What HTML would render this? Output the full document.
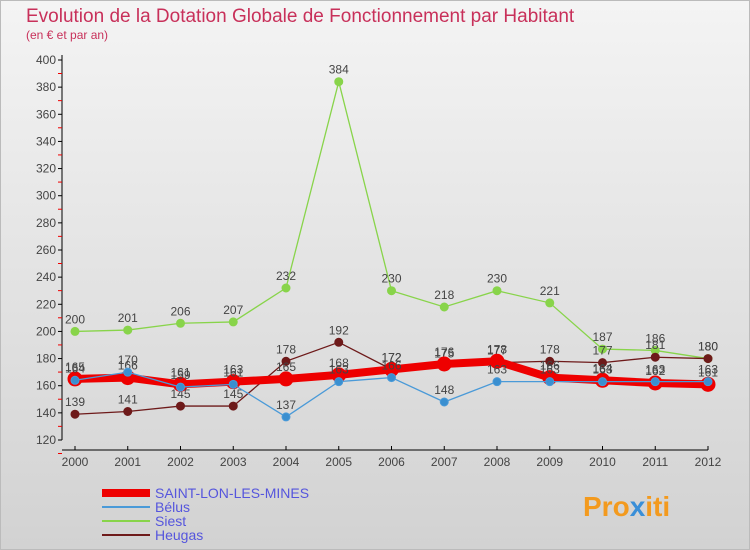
<!DOCTYPE html>
<html><head><meta charset="utf-8"><style>
body{margin:0;width:750px;height:550px;overflow:hidden;font-family:"Liberation Sans",sans-serif}
#bg{position:absolute;left:0;top:0;width:750px;height:550px;background:linear-gradient(#f4f4f4,#d2d2d2);border:1px solid #bbb;box-sizing:border-box}
</style></head><body>
<div id="bg"></div>
<svg id="c" width="750" height="550" style="position:absolute;left:0;top:0">
<text x="26" y="22" font-size="19" fill="#c8305a">Evolution de la Dotation Globale de Fonctionnement par Habitant</text>
<text x="26" y="39" font-size="12" fill="#c8305a">(en € et par an)</text>
<g id="axes"></g><g id="series"></g><g id="legend"></g>
<text x="583" y="516" font-size="28" font-weight="bold" fill="#f39a1e">Pro<tspan fill="#3a8fd8">x</tspan>iti</text>
</svg>
<script>
const years=[2000,2001,2002,2003,2004,2005,2006,2007,2008,2009,2010,2011,2012];
const yTicks=[120,140,160,180,200,220,240,260,280,300,320,340,360,380,400];
const saint=[165,166,161,163,165,168,172,176,178,166,164,162,161];
const belus=[164,170,159,161,137,163,166,148,163,163,163,163,163];
const siest=[200,201,206,207,232,384,230,218,230,221,187,186,180];
const heugas=[139,141,145,145,178,192,172,175,177,178,177,181,180];
const NS="http://www.w3.org/2000/svg";
const X=i=>75+i*(633/12), Y=v=>440-(v-120)*(380/280);
function mk(t,a,p){const e=document.createElementNS(NS,t);for(const k in a)e.setAttribute(k,a[k]);p.appendChild(e);return e;}
const ax=document.getElementById('axes');
let yl=mk('line',{x1:62,y1:55,x2:62,y2:440,stroke:'#000'},ax);


let xl=mk('line',{x1:62,y1:450,x2:708,y2:450,stroke:'#000'},ax);


yTicks.forEach(v=>{const y=Y(v);
 mk('line',{x1:58,y1:y,x2:62,y2:y,stroke:'#000'},ax);
 mk('line',{x1:58,y1:y+13.5,x2:62,y2:y+13.5,stroke:'#e00'},ax);
 const t=mk('text',{x:56,y:y+4,'font-size':12,fill:'#444','text-anchor':'end'},ax);t.textContent=v;
 
 });
years.forEach((yr,i)=>{const x=X(i);
 mk('line',{x1:x,y1:446,x2:x,y2:450,stroke:'#000'},ax);
 const t=mk('text',{x:x,y:466,'font-size':12,fill:'#444','text-anchor':'middle'},ax);t.textContent=yr;
 
 });
const sg=document.getElementById('series');
function series(vals,color,w,r,name,dot){
 const g=mk('g',{},sg);
 
 
 mk('polyline',{points:vals.map((v,i)=>X(i)+','+Y(v)).join(' '),fill:'none',stroke:color,'stroke-width':w},g);
 vals.forEach((v,i)=>{const c=mk('circle',{cx:X(i),cy:Y(v),r:r,fill:dot,stroke:color,'stroke-width':1},g);
  
  
  const t=mk('text',{x:X(i),y:Y(v)-8,'font-size':12,fill:'#444','text-anchor':'middle'},g);t.textContent=v;});
}
series(siest,'#88d44a',1.3,4,'siest-series','#88d44a');
series(heugas,'#6e1a1a',1.3,4,'heugas-series','#6e1a1a');
series(saint,'#ee0000',8,7,'saint-lon-series','#ee0000');
series(belus,'#4a9ad8',1.3,4,'belus-series','#3a8fd0');
const lg=document.getElementById('legend');
[['SAINT-LON-LES-MINES','#ee0000',8],['Bélus','#4a9ad8',2],['Siest','#88d44a',2],['Heugas','#6e1a1a',2]].forEach((d,i)=>{
 const y=493+i*14;
 const g=mk('g',{},lg);
 
 
 mk('line',{x1:102,y1:y,x2:150,y2:y,stroke:d[1],'stroke-width':d[2]},g);
 const t=mk('text',{x:155,y:y+5,'font-size':14,fill:'#5555dd'},g);t.textContent=d[0];});
</script>
</body></html>
